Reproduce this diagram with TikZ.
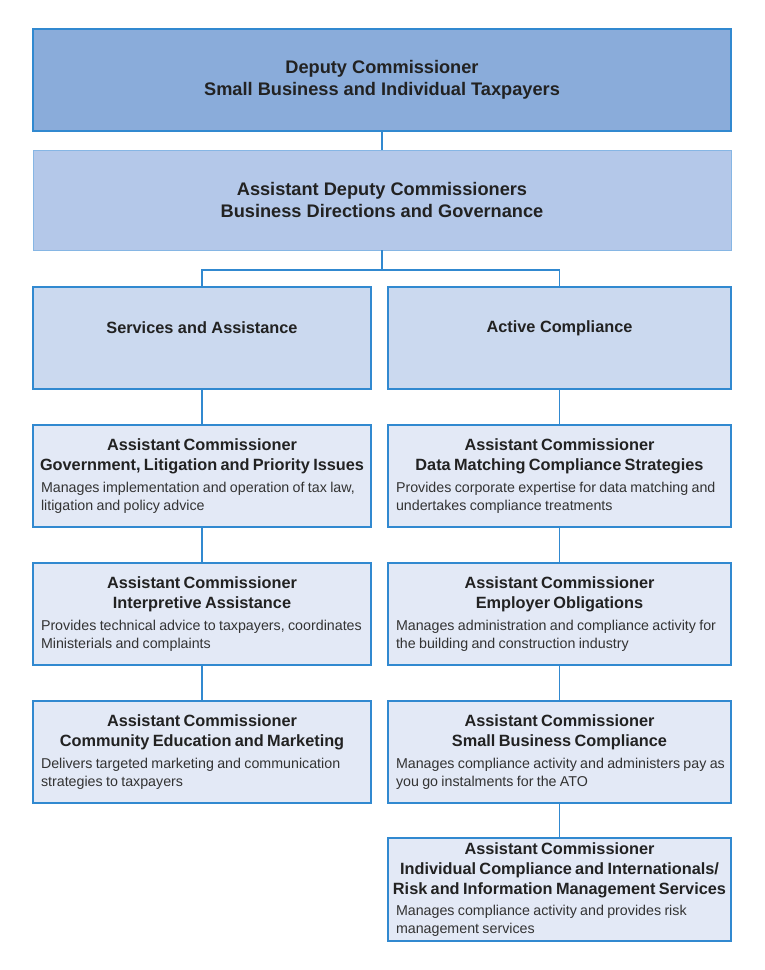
\documentclass[tikz,border=0pt]{standalone}
\usepackage{fontspec}
\setmainfont{Liberation Sans}
\definecolor{bline}{HTML}{3189D0}
\definecolor{topfill}{HTML}{8AACDA}
\definecolor{secfill}{HTML}{B4C8E9}
\definecolor{secline}{HTML}{86B6E4}
\definecolor{midfill}{HTML}{CBD9EF}
\definecolor{lowfill}{HTML}{E3E9F6}
\definecolor{hdrtext}{HTML}{222222}
\definecolor{dsctext}{HTML}{333333}
\hfuzz=40pt \hbadness=10000
\newcommand\orghdrfont{\fontsize{16.3}{20}\selectfont\bfseries}
\newcommand\orgdscfont{\fontsize{14.25}{18}\selectfont}
\newcommand\orgtopfont{\fontsize{18.2}{22}\selectfont\bfseries}
\newcommand\orgentry[2]{\parindent=0pt{\orghdrfont\color{hdrtext}\centering\leftskip=-10pt plus 1fil\rightskip=-10pt plus 1fil\parfillskip=0pt #1\par}\vspace{3.5pt}{\orgdscfont\color{dsctext}\raggedright\rightskip=-12pt plus 1fil #2\par}}
\tikzset{
  orgbox/.style={draw=bline, line width=1.6pt, rectangle, anchor=north west, inner sep=0pt, outer sep=0pt},
  lowbox/.style={orgbox, fill=lowfill, minimum height=102pt, inner xsep=8pt, text width=#1},
  conn/.style={draw=bline, line width=1.6pt},
  headtext/.style={font=\orghdrfont, text=hdrtext, inner sep=0pt}
}
\begin{document}
\begin{tikzpicture}[x=1pt, y=-1pt]
\useasboundingbox[fill=white] (0,0) rectangle (764,970);

\node[orgbox, fill=topfill, minimum width=698pt, minimum height=102pt, align=center, font=\orgtopfont, text=hdrtext] (dc) at (33,29) {Deputy Commissioner\\Small Business and Individual Taxpayers};
\node[orgbox, draw=secline, line width=1pt, fill=secfill, minimum width=698pt, minimum height=100pt, align=center, font=\orgtopfont, text=hdrtext] (adc) at (33,150) {Assistant Deputy Commissioners\\Business Directions and Governance};

\node[orgbox, fill=midfill, minimum width=338pt, minimum height=102pt] (sa) at (33,287) {};
\node[headtext] (satext) at ([yshift=-41pt]sa.north) {Services and Assistance};
\node[orgbox, fill=midfill, minimum width=343pt, minimum height=102pt] (ac) at (388,287) {};
\node[headtext] (actext) at ([yshift=-41pt]ac.north) {Active Compliance};

\node[lowbox=322pt] (l1) at (33,425) {\orgentry{Assistant Commissioner\\Government, Litigation and Priority Issues}{Manages implementation and operation of tax law,\\litigation and policy advice}};
\node[lowbox=322pt] (l2) at (33,563) {\orgentry{Assistant Commissioner\\Interpretive Assistance}{Provides technical advice to taxpayers, coordinates\\Ministerials and complaints}};
\node[lowbox=322pt] (l3) at (33,701) {\orgentry{Assistant Commissioner\\Community Education and Marketing}{Delivers targeted marketing and communication\\strategies to taxpayers}};

\node[lowbox=327pt] (r1) at (388,425) {\orgentry{Assistant Commissioner\\Data Matching Compliance Strategies}{Provides corporate expertise for data matching and\\undertakes compliance treatments}};
\node[lowbox=327pt] (r2) at (388,563) {\orgentry{Assistant Commissioner\\Employer Obligations}{Manages administration and compliance activity for\\the building and construction industry}};
\node[lowbox=327pt] (r3) at (388,701) {\orgentry{Assistant Commissioner\\Small Business Compliance}{Manages compliance activity and administers pay as\\you go instalments for the ATO}};
\node[lowbox=327pt, minimum height=103pt] (r4) at (388,838) {\orgentry{Assistant Commissioner\\Individual Compliance and Internationals/\\Risk and Information Management Services}{Manages compliance activity and provides risk\\management services}};

\coordinate (j) at (382,270);
\draw[conn] (dc.south) -- (adc.north);
\draw[conn] (adc.south) -- (j);
\draw[conn] (sa.north) |- (j) -| (ac.north);
\draw[conn] (sa.south) -- (l1.north);
\draw[conn] (l1.south) -- (l2.north);
\draw[conn] (l2.south) -- (l3.north);
\draw[conn] (ac.south) -- (r1.north);
\draw[conn] (r1.south) -- (r2.north);
\draw[conn] (r2.south) -- (r3.north);
\draw[conn] (r3.south) -- (r4.north);
\end{tikzpicture}
\end{document}
